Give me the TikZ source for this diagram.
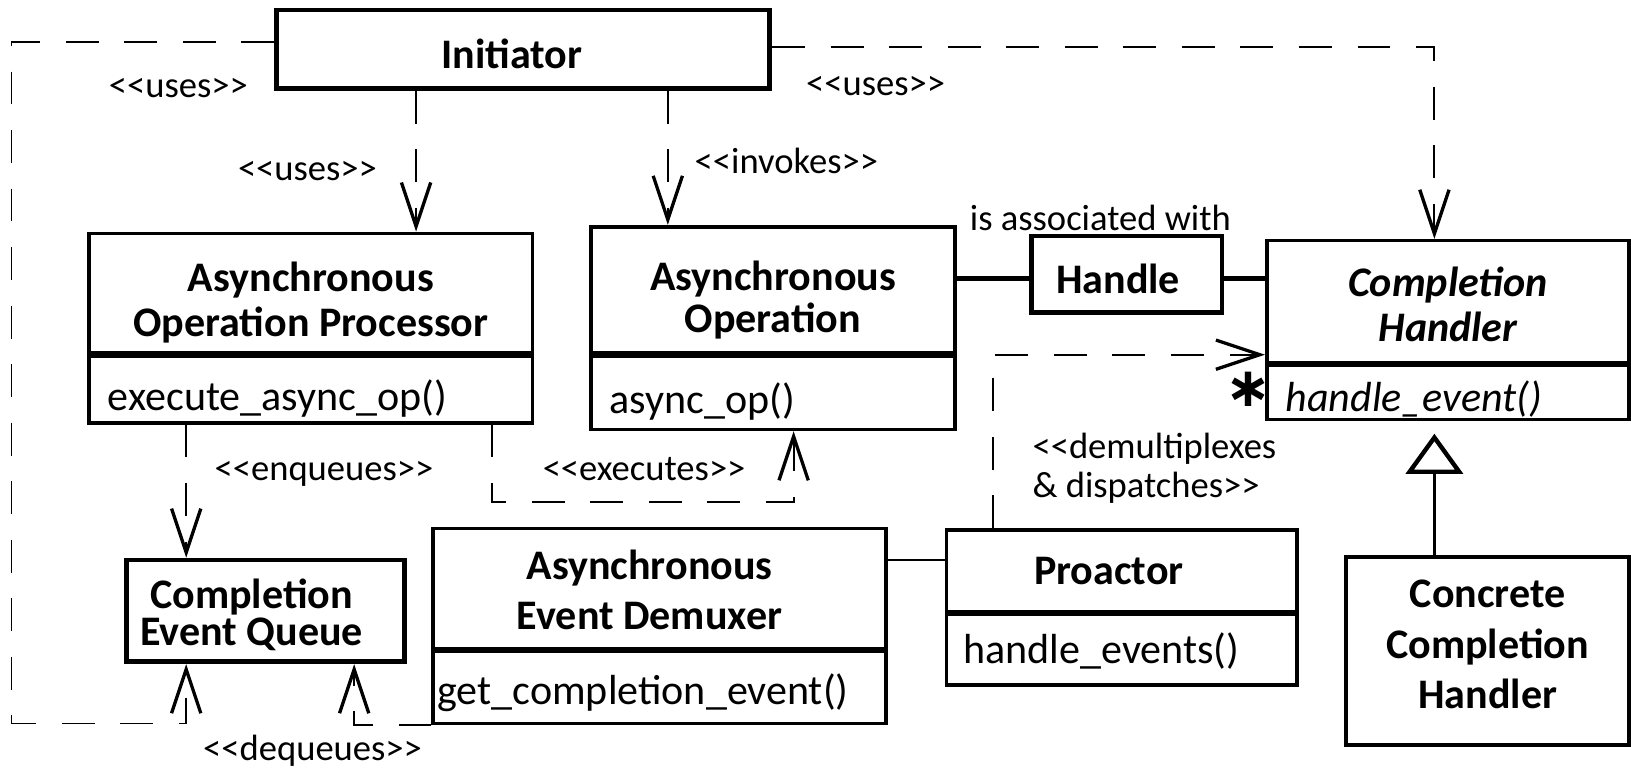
\documentclass[tikz,border=0pt]{standalone}
\usepackage{fontspec}
\setmainfont{Carlito}[Ligatures=TeXOff]
\newfontfamily\djv{DejaVu Sans}
\usetikzlibrary{arrows.meta}
\newcommand\tpad[1]{\rule{0pt}{#1}}
\newcommand\bpad[1]{\rule[-#1]{0pt}{#1}}

\begin{document}
\begin{tikzpicture}[x=0.01cm,y=-0.01cm,
    box/.style={draw,line width=1pt,inner sep=0pt},
    tbox/.style={draw,line width=1.3pt,inner sep=0pt},
    div/.style={line width=1.4pt},
    title/.style={font=\fontsize{11.5}{#1}\selectfont\bfseries,align=center},
    title/.default=13.7pt,
    ops/.style={box,font=\fontsize{11.5}{13.7}\selectfont,align=left,inner xsep=0.18cm,text depth=0pt,text height=#1},
    ops/.default=12pt,
    lbl/.style={font=\fontsize{10}{10.5}\selectfont,inner sep=0pt,anchor=base},
    dep/.style={line width=0.5pt,dash pattern=on 9pt off 7pt,-{Straight Barb[length=12pt,width=8pt,line width=0.9pt]}},
    gen/.style={line width=0.9pt,-{Triangle[open,length=11pt,width=15.6pt,line width=1.2pt]},shorten >=0.12cm}]
    \useasboundingbox (0,0) rectangle (1568,737.5);
    \coordinate (ul) at (11,40);
    \coordinate (ll) at (11,695.5);
    \coordinate (ur) at (1379,45);
    \coordinate (q1) at (179,0);
    \coordinate (q2) at (340.5,0);
    \coordinate (u1) at (400,0);
    \coordinate (u2) at (642,0);
    \coordinate (e1) at (473,482.4);
    \coordinate (e2) at (763,482.4);
    \coordinate (d1) at (955,341);
    \coordinate (hl) at (0,268);
    \coordinate (dp) at (0,538);
    \node[tbox,title,minimum width=4.74cm,minimum height=0.754cm] (ini) at (503,47.3) {\tpad{10.5pt}Initiator\hspace*{6.3pt}};
    \node[box,title=12.3pt,minimum width=4.259cm,minimum height=1.153cm] (aop) at (298.85,282.05) {\tpad{12.9pt}Asynchronous\\Operation Processor};
    \node[ops=12.1pt,text width=3.899cm,minimum height=0.667cm] (aopo) at (298.85,373.05) {execute\_async\_op()};
    \node[box,title=11.4pt,minimum width=3.498cm,minimum height=1.217cm] (ao) at (743.1,278.85) {\tpad{13.7pt}Asynchronous\\Operation};
    \node[ops=12.1pt,text width=3.138cm,minimum height=0.731cm] (aoo) at (743.1,376.25) {async\_op()};
    \node[tbox,title,minimum width=1.827cm,minimum height=0.737cm] (hdl) at (1083.35,263.85) {\tpad{10.4pt}Handle\hspace*{4.8pt}};
    \node[box,title=12.3pt,minimum width=3.48cm,minimum height=1.173cm] (ch) at (1392,290.05) {\tpad{9.6pt}\itshape Completion\\\itshape Handler};
    \node[ops=11.2pt,text width=3.12cm,minimum height=0.545cm,font=\fontsize{11.5}{13.7}\selectfont\itshape] (cho) at (1392,375.95) {handle\_event()};
    \node[tbox,title=10.1pt,minimum width=2.676cm,minimum height=0.977cm] (ceq) at (255.2,587.35) {\tpad{10.1pt}Completion\hspace*{7.6pt}\\Event Queue\hspace*{7.6pt}};
    \node[box,title=13.7pt,minimum width=4.349cm,minimum height=1.154cm] (aed) at (634.15,565.7) {\tpad{9.1pt}Asynchronous\hspace*{5.5pt}\\Event Demuxer\hspace*{5.5pt}};
    \node[ops=10.4pt,inner xsep=0.04cm,text width=4.269cm,minimum height=0.721cm] (aedo) at (634.15,659.45) {get\_completion\_event()};
    \node[box,title,minimum width=3.363cm,minimum height=0.786cm] (pro) at (1078.35,548.9) {Proactor\hspace*{7pt}};
    \node[ops=8.1pt,inner xsep=0.16cm,text width=3.043cm,minimum height=0.705cm] (proo) at (1078.35,623.45) {handle\_events()};
    \node[box,title=13.9pt,minimum width=2.716cm,minimum height=1.811cm] (cch) at (1430.2,625.85) {Concrete\\Completion\\Handler\bpad{3.7pt}};
    \draw[div] (aop.south west) -- (aop.south east);
    \draw[div] (ao.south west) -- (ao.south east);
    \draw[div] (ch.south west) -- (ch.south east);
    \draw[div] (aed.south west) -- (aed.south east);
    \draw[div] (pro.south west) -- (pro.south east);
    \node[lbl] (l1) at (171.5,93.4) {<<uses>>};
    \node[lbl] (l2) at (295.6,173.4) {<<uses>>};
    \node[lbl] (l3) at (756,167.1) {<<invokes>>};
    \node[lbl] (l4) at (841.8,91.7) {<<uses>>};
    \node[lbl] (l5) at (1057.9,221.2) {is associated with};
    \node[lbl] (l6) at (311.5,461.9) {<<enqueues>>};
    \node[lbl] (l7) at (619.2,461.9) {<<executes>>};
    \node[lbl] (l8) at (300.5,731) {<<dequeues>>};
    \node[lbl,anchor=base west,align=left] (l9) at (992,478) {<<demultiplexes\\\& dispatches>>};
    \node[font=\fontsize{15}{15}\selectfont\djv\bfseries,inner sep=0pt,anchor=base] (mul) at (1200,391) {∗};
    \draw[dep] (ini.west |- ul) -- (ul) -- (ll) -| (ceq.south -| q1);
    \draw[dep] (ini.south -| u1) -- (aop.north -| u1);
    \draw[dep] (ini.south -| u2) -- (ao.north -| u2);
    \draw[dep] (ini.east |- ur) -- (ur) -- (ch.north -| ur);
    \draw[dep] (aopo.south -| q1) -- (ceq.north -| q1);
    \draw[dep] (aopo.south -| e1) -- (e1) -- (e2) -- (aoo.south -| e2);
    \draw[dep] (aedo.south west) -| (ceq.south -| q2);
    \draw[dep] (pro.north -| d1) -- (d1) -- (ch.west |- d1);
    \draw[line width=1.3pt] (ao.east |- hl) -- (hdl.west |- hl);
    \draw[line width=1.3pt] (hdl.east |- hl) -- (ch.west |- hl);
    \draw[line width=0.5pt] (aed.east |- dp) -- (pro.west |- dp);
    \draw[gen] (cch.north -| ur) -- (cho.south -| ur);
\end{tikzpicture}
\end{document}
